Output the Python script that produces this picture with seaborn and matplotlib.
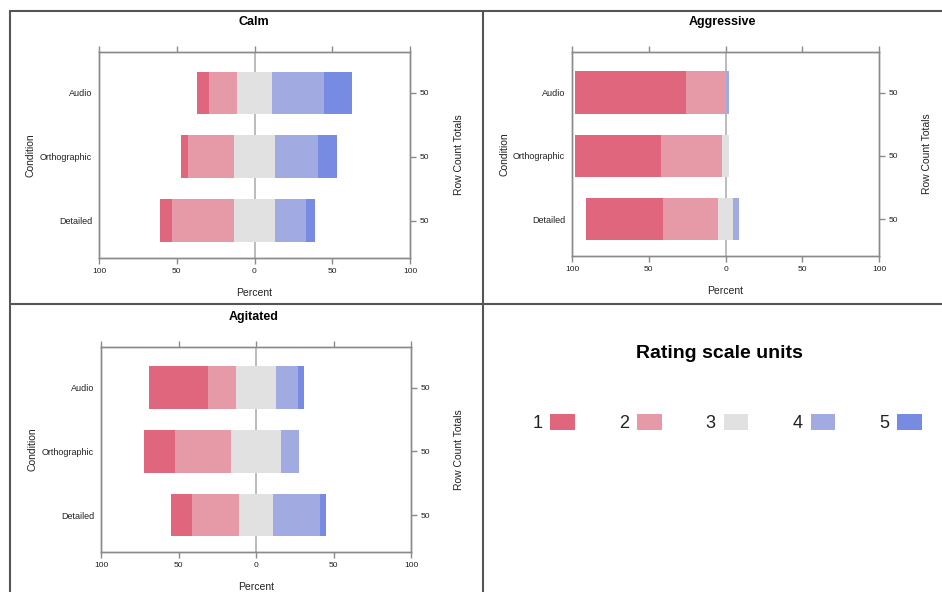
import numpy as np
import pandas as pd
import matplotlib
matplotlib.use("Agg")
import matplotlib.pyplot as plt
from matplotlib.lines import Line2D
from matplotlib.patches import Patch
import seaborn as sns

# ---------------- data ----------------
conditions = ["Audio", "Orthographic", "Detailed"]
levels = ["1", "2", "3", "4", "5"]
colors = ["#E0667E", "#E699A7", "#E1E1E1", "#A1ABE2", "#778BE3"]

calm_1 = [8, 4, 8]
calm_2 = [18, 30, 40]
calm_3 = [22, 26, 26]
calm_4 = [34, 28, 20]
calm_5 = [18, 12, 6]

aggr_1 = [72, 56, 50]
aggr_2 = [26, 40, 36]
aggr_3 = [0, 4, 10]
aggr_4 = [2, 0, 4]
aggr_5 = [0, 0, 0]

agit_1 = [38, 20, 14]
agit_2 = [18, 36, 30]
agit_3 = [26, 32, 22]
agit_4 = [14, 12, 30]
agit_5 = [4, 0, 4]

row_totals = [50, 50, 50]
x_ticks = [-100, -50, 0, 50, 100]
x_tick_labels = ["100", "50", "0", "50", "100"]
panel_titles = ["Calm", "Aggressive", "Agitated"]

# ---------------- style ----------------
sns.set_theme(style="white")
plt.rcParams["font.family"] = ["Liberation Sans", "DejaVu Sans"]
plt.rcParams["axes.edgecolor"] = "#8a8a8a"
plt.rcParams["axes.linewidth"] = 1.0
TXT = "#222222"
GRAY = "#8a8a8a"

W, H = 942, 592
fig = plt.figure(figsize=(W / 100, H / 100), dpi=100)


def px_axes(x0, y0, x1, y1):
    return fig.add_axes([x0 / W, 1 - y1 / H, (x1 - x0) / W, (y1 - y0) / H])


def draw_panel(ax, r1, r2, r3, r4, r5):
    df = pd.DataFrame({"Condition": conditions, "1": r1, "2": r2,
                       "3": r3, "4": r4, "5": r5})
    half = df["3"] / 2
    layers = [
        (half + df["4"] + df["5"], colors[4]),
        (half + df["4"], colors[3]),
        (half, colors[2]),
        (-(half + df["2"] + df["1"]), colors[0]),
        (-(half + df["2"]), colors[1]),
        (-half, colors[2]),
    ]
    ax.axvline(0, color="#b0b0b0", lw=1.2, zorder=0.5)
    for vals, c in layers:
        d = pd.DataFrame({"Condition": conditions, "value": vals.values})
        sns.barplot(data=d, x="value", y="Condition", order=conditions,
                    orient="y", color=c, saturation=1, width=0.67,
                    errorbar=None, linewidth=0, edgecolor="none", ax=ax)
    ax.set_xlim(-100, 100)
    ax.set_ylim(2.58, -0.64)
    ax.set_xticks(x_ticks, x_tick_labels)
    ax.tick_params(axis="x", bottom=True, top=True, labeltop=False,
                   direction="out", length=4, width=1, color=GRAY,
                   labelsize=6, labelcolor=TXT, pad=3)
    ax.tick_params(axis="y", left=False, right=False, length=0,
                   labelsize=6.5, labelcolor=TXT, pad=5)
    ax.set_xlabel("Percent", fontsize=7.5, color=TXT)
    ax.set_ylabel("Condition", fontsize=7.5, color=TXT)
    ax.xaxis.set_label_coords(0.5, -0.145)
    ax.yaxis.set_label_coords(-0.205, 0.5)
    for s in ax.spines.values():
        s.set_visible(True)
        s.set_color(GRAY)

    tw = ax.twinx()
    tw.set_ylim(ax.get_ylim())
    tw.set_yticks([0, 1, 2], [str(v) for v in row_totals])
    tw.tick_params(axis="y", left=False, labelleft=False, right=True,
                   labelright=True, direction="out", length=4, width=1,
                   color=GRAY, labelsize=6, labelcolor=TXT, pad=3)
    tw.set_ylabel("Row Count Totals", fontsize=7.5, color=TXT)
    tw.yaxis.set_label_coords(1.14, 0.5)
    for s in tw.spines.values():
        s.set_color(GRAY)


ax1 = px_axes(99, 52, 410, 258)
draw_panel(ax1, calm_1, calm_2, calm_3, calm_4, calm_5)
ax2 = px_axes(572, 52, 879, 256)
draw_panel(ax2, aggr_1, aggr_2, aggr_3, aggr_4, aggr_5)
ax3 = px_axes(101, 347, 411, 552)
draw_panel(ax3, agit_1, agit_2, agit_3, agit_4, agit_5)

# panel titles
for (tx, ty), t in zip([(254, 22), (722, 22), (254, 317)], panel_titles):
    fig.text(tx / W, 1 - ty / H, t, ha="center", va="center",
             fontsize=9, fontweight="bold", color="black")


# frame lines of the 2x2 layout
def fig_line(x0, y0, x1, y1):
    fig.add_artist(Line2D([x0 / W, x1 / W], [1 - y0 / H, 1 - y1 / H],
                          transform=fig.transFigure, color="#555555", lw=1.5))


fig_line(10, 11, 942, 11)
fig_line(10, 11, 10, 592)
fig_line(483, 11, 483, 592)
fig_line(10, 304, 942, 304)

# legend panel
fig.text(719 / W, 1 - 353 / H, "Rating scale units", ha="center", va="center",
         fontsize=14, fontweight="bold", color="black")
handles = [Patch(facecolor=c, edgecolor="none") for c in colors]
fig.legend(handles, levels, loc="center", bbox_to_anchor=(727 / W, 1 - 423 / H),
           ncol=5, frameon=False, markerfirst=False, fontsize=13,
           handlelength=1.35, handleheight=0.95, handletextpad=0.45,
           columnspacing=2.45, labelcolor=TXT)

fig.savefig("out.png", dpi=100)
